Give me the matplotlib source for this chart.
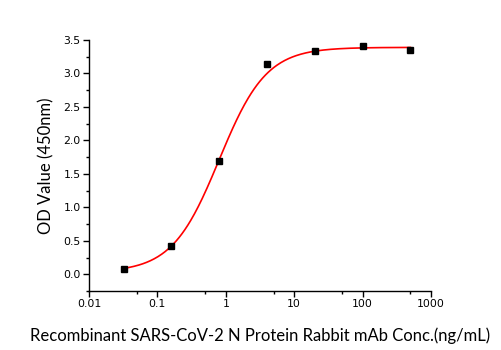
import numpy as np
import matplotlib
matplotlib.use("Agg")
import matplotlib.pyplot as plt
from matplotlib.ticker import FixedLocator, FixedFormatter, MultipleLocator

########################################################
# Data
########################################################

conc = [0.032, 0.16, 0.8, 4, 20, 100, 500]
od = [0.085, 0.42, 1.69, 3.14, 3.335, 3.41, 3.355]

# 4PL fit parameters (bottom, top, EC50, hill)
fit_bottom = 0.03
fit_top = 3.39
fit_ec50 = 0.8
fit_hill = 1.26

x_ticks = [0.01, 0.1, 1, 10, 100, 1000]
x_tick_labels = ["0.01", "0.1", "1", "10", "100", "1000"]
x_minor = [0.05, 0.5, 5, 50, 500]


def four_pl(x):
    return fit_bottom + (fit_top - fit_bottom) / (1 + (fit_ec50 / x) ** fit_hill)


########################################################
# Plot
########################################################

fig = plt.figure(figsize=(5.01, 3.5), dpi=100)
ax = fig.add_axes([0.1776, 0.1686, 0.6826, 0.7171])

xs = np.logspace(np.log10(conc[0]), np.log10(conc[-1]), 300)
ax.plot(xs, four_pl(xs), color="red", lw=1.2, zorder=2)
ax.plot(conc, od, "s", color="black", ms=4.5, zorder=3)

ax.set_xscale("log")
ax.set_xlim(0.01, 1000)
ax.set_ylim(-0.25, 3.5)

ax.xaxis.set_major_locator(FixedLocator(x_ticks))
ax.xaxis.set_major_formatter(FixedFormatter(x_tick_labels))
ax.xaxis.set_minor_locator(FixedLocator(x_minor))
ax.yaxis.set_major_locator(MultipleLocator(0.5))
ax.yaxis.set_minor_locator(MultipleLocator(0.25))
ax.yaxis.set_major_formatter(matplotlib.ticker.FormatStrFormatter("%.1f"))

for side in ["top", "right"]:
    ax.spines[side].set_visible(False)
for side in ["left", "bottom"]:
    ax.spines[side].set_linewidth(1.0)

ax.tick_params(which="major", direction="out", length=4, width=1, labelsize=7.8, pad=2)
ax.tick_params(which="minor", direction="out", length=2.5, width=1)

ax.set_xlabel("Recombinant SARS-CoV-2 N Protein Rabbit mAb Conc.(ng/mL)",
              family="Lato", fontsize=12, labelpad=13)
ax.set_ylabel("OD Value (450nm)", family="Lato", fontsize=12, labelpad=6)

fig.savefig("out.png", dpi=100)
